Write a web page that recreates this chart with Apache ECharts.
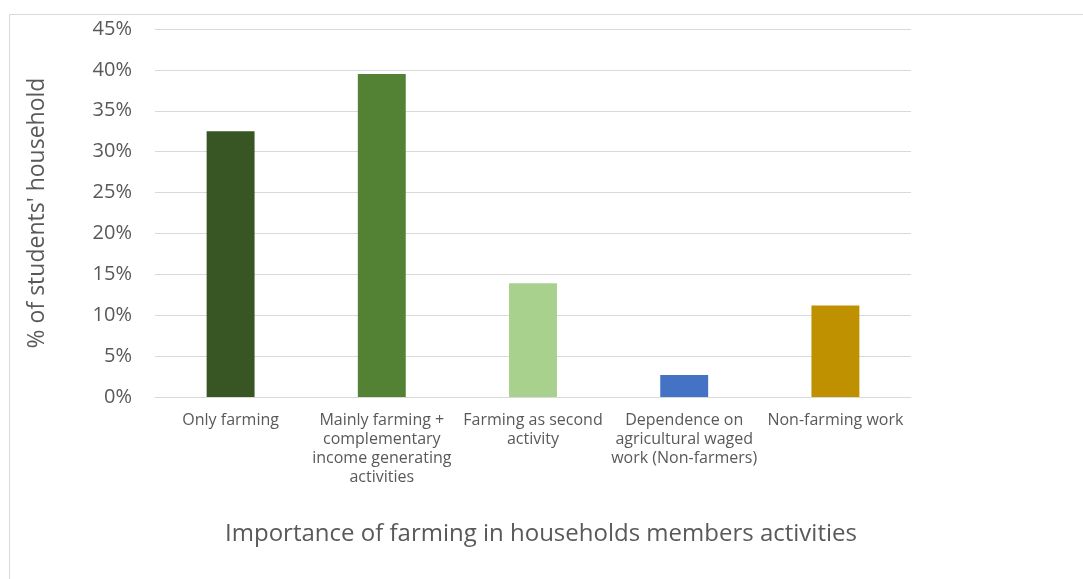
<!DOCTYPE html>
<html>
<head>
<meta charset="utf-8">
<style>
  html, body { margin: 0; padding: 0; background: #ffffff; }
  #chart { width: 1083px; height: 579px; }
</style>
<script src="https://cdn.jsdelivr.net/npm/echarts@6/dist/echarts.min.js"></script>
</head>
<body>
<div id="chart"></div>
<script>
// Household activity categories (wrapped for the axis)
const categories = [
  'Only farming',
  'Mainly farming +\ncomplementary\nincome generating\nactivities',
  'Farming as second\nactivity',
  'Dependence on\nagricultural waged\nwork (Non-farmers)',
  'Non-farming work'
];
// Share of students' households, in percent
const shares = [32.5, 39.5, 13.9, 2.7, 11.2];
const barColors = ['#375623', '#548235', '#A9D18E', '#4472C4', '#BF9000'];
const yTicks = { min: 0, max: 45, interval: 5 };

const FONT = '"Open Sans", "Noto Sans", sans-serif';
const TEXT = '#595959';
const GRID = '#d9d9d9';

const chart = echarts.init(document.getElementById('chart'), null, { renderer: 'canvas' });
chart.setOption({
  animation: false,
  backgroundColor: '#ffffff',
  graphic: [{
    type: 'rect',
    shape: { x: 9.5, y: 14.5, width: 1200, height: 700 },
    style: { fill: 'none', stroke: GRID, lineWidth: 1 },
    silent: true
  }],
  grid: { left: 155, right: 172, top: 29, bottom: 182 },
  xAxis: {
    type: 'category',
    data: categories,
    name: 'Importance of farming in households members activities',
    nameLocation: 'middle',
    nameGap: 125,
    nameTextStyle: { color: TEXT, fontFamily: FONT, fontSize: 24, padding: [0, 0, 0, 16] },
    axisLine: { show: true, lineStyle: { color: GRID, width: 1 } },
    axisTick: { show: false },
    axisLabel: {
      interval: 0,
      color: TEXT,
      fontFamily: FONT,
      fontSize: 16,
      lineHeight: 19,
      margin: 14
    }
  },
  yAxis: {
    type: 'value',
    min: yTicks.min,
    max: yTicks.max,
    interval: yTicks.interval,
    name: "% of students' household",
    nameLocation: 'middle',
    nameGap: 106,
    nameTextStyle: { color: TEXT, fontFamily: FONT, fontSize: 23 },
    axisLine: { show: false },
    axisTick: { show: false },
    splitLine: { lineStyle: { color: GRID, width: 1 } },
    axisLabel: {
      color: TEXT,
      fontFamily: FONT,
      fontSize: 20,
      margin: 23,
      formatter: '{value}%'
    }
  },
  series: [{
    type: 'bar',
    barWidth: '31.7%',
    data: shares.map((v, i) => ({ value: v, itemStyle: { color: barColors[i] } }))
  }]
});
</script>
</body>
</html>
